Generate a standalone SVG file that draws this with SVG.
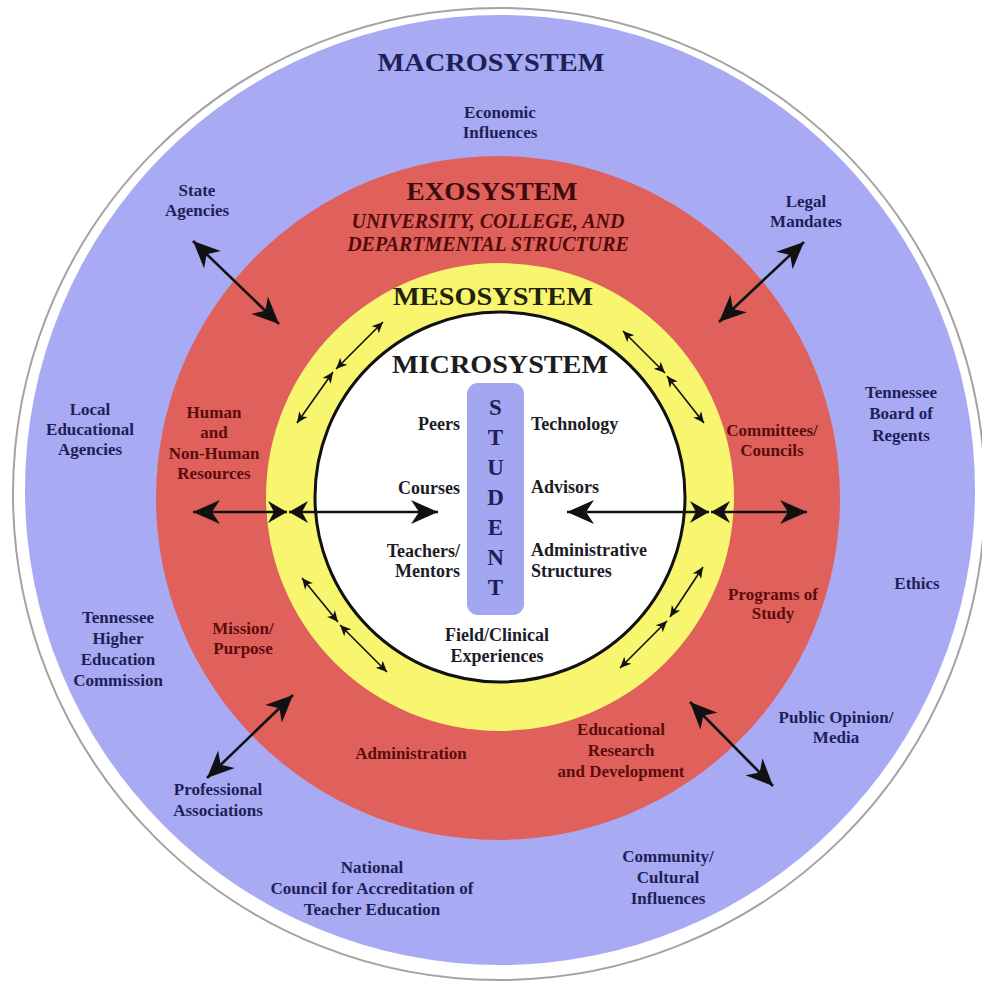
<svg xmlns="http://www.w3.org/2000/svg" width="982" height="983" viewBox="0 0 982 983">
<defs>
<style>
.t{font-family:"Liberation Serif","Times New Roman",serif;font-weight:bold;font-size:17px;text-anchor:middle}
.w{font-family:"Liberation Serif","Times New Roman",serif;font-weight:bold;font-size:18px;fill:#1c1c28}
.it{font-family:"Liberation Serif","Times New Roman",serif;font-weight:bold;font-style:italic;font-size:20px;text-anchor:middle;fill:#520a0a}
.ttl{font-family:"Liberation Serif","Times New Roman",serif;font-weight:bold;font-size:26px;text-anchor:middle}
.st{font-family:"Liberation Serif","Times New Roman",serif;font-weight:bold;font-size:23px;text-anchor:middle;fill:#1f1f57}
.nv{fill:#1f1f57}
.mr{fill:#5a0c0c}
.big{stroke:#111;stroke-width:2.6;fill:none}
.thin{stroke:#111;stroke-width:1.6;fill:none}
</style>
<marker id="ah" viewBox="-28 -13 30 26" refX="0" refY="0" markerWidth="30" markerHeight="26" markerUnits="userSpaceOnUse" orient="auto-start-reverse"><path d="M0,0 L-27,-12 L-19,0 L-27,12 Z" fill="#111"/></marker>
<marker id="am" viewBox="-20 -12 22 24" refX="0" refY="0" markerWidth="22" markerHeight="24" markerUnits="userSpaceOnUse" orient="auto-start-reverse"><path d="M0,0 L-19,-11 L-13,0 L-19,11 Z" fill="#111"/></marker>
<marker id="as" viewBox="-12 -6 13 12" refX="0" refY="0" markerWidth="13" markerHeight="12" markerUnits="userSpaceOnUse" orient="auto-start-reverse"><path d="M0,0 L-11,-5 L-8,0 L-11,5 Z" fill="#111"/></marker>
</defs>

<g id="rings">
<circle cx="499" cy="494" r="486" fill="#fff" stroke="#a3a3a3" stroke-width="2"/>
<circle cx="500" cy="490" r="475" fill="#a8aaf4"/>
<circle cx="498" cy="498" r="342" fill="#e0615b"/>
<circle cx="500" cy="497" r="234" fill="#f8f66e"/>
<circle cx="500" cy="497" r="185" fill="#fff" stroke="#111" stroke-width="3"/>
</g>

<g id="titles">
<text id="macrosystem" class="ttl nv" x="491" y="71" font-size="27" textLength="227" lengthAdjust="spacingAndGlyphs">MACROSYSTEM</text>
<text id="exosystem" class="ttl" x="492" y="200" fill="#3d0b0b" textLength="171" lengthAdjust="spacingAndGlyphs">EXOSYSTEM</text>
<text class="it" x="488" y="228">UNIVERSITY, COLLEGE, AND</text>
<text class="it" x="488" y="251">DEPARTMENTAL STRUCTURE</text>
<text id="mesosystem" class="ttl" x="493" y="305" fill="#23220f" textLength="200" lengthAdjust="spacingAndGlyphs">MESOSYSTEM</text>
<text id="microsystem" class="ttl" x="500" y="373" fill="#1c1c1c" textLength="216" lengthAdjust="spacingAndGlyphs">MICROSYSTEM</text>
</g>

<g id="connectors">
<line class="big" x1="193" y1="241" x2="279" y2="324" marker-start="url(#ah)" marker-end="url(#ah)"/>
<line class="big" x1="804" y1="242" x2="719" y2="322" marker-start="url(#ah)" marker-end="url(#ah)"/>
<line class="big" x1="207" y1="778" x2="293" y2="695" marker-start="url(#ah)" marker-end="url(#ah)"/>
<line class="big" x1="690" y1="702" x2="773" y2="786" marker-start="url(#ah)" marker-end="url(#ah)"/>
<line class="big" x1="193" y1="512" x2="287" y2="512" marker-start="url(#ah)" marker-end="url(#am)"/>
<line class="big" x1="289" y1="512" x2="438" y2="512" marker-start="url(#am)" marker-end="url(#ah)"/>
<line class="big" x1="567" y1="512" x2="709" y2="512" marker-start="url(#ah)" marker-end="url(#am)"/>
<line class="big" x1="711" y1="512" x2="807" y2="512" marker-start="url(#am)" marker-end="url(#ah)"/>
<line class="thin" x1="383" y1="322" x2="336" y2="369" marker-start="url(#as)" marker-end="url(#as)"/>
<line class="thin" x1="333" y1="372" x2="297" y2="423" marker-start="url(#as)" marker-end="url(#as)"/>
<line class="thin" x1="623" y1="331" x2="665" y2="373" marker-start="url(#as)" marker-end="url(#as)"/>
<line class="thin" x1="667" y1="376" x2="704" y2="423" marker-start="url(#as)" marker-end="url(#as)"/>
<line class="thin" x1="302" y1="578" x2="338" y2="622" marker-start="url(#as)" marker-end="url(#as)"/>
<line class="thin" x1="340" y1="625" x2="387" y2="672" marker-start="url(#as)" marker-end="url(#as)"/>
<line class="thin" x1="703" y1="567" x2="670" y2="617" marker-start="url(#as)" marker-end="url(#as)"/>
<line class="thin" x1="667" y1="621" x2="620" y2="668" marker-start="url(#as)" marker-end="url(#as)"/>
</g>

<g id="student">
<rect x="467" y="383" width="57" height="232" rx="11" fill="#a3a6f0"/>
<text class="st" x="495.5" y="415">S</text>
<text class="st" x="495.5" y="445">T</text>
<text class="st" x="495.5" y="475">U</text>
<text class="st" x="495.5" y="505">D</text>
<text class="st" x="495.5" y="535">E</text>
<text class="st" x="495.5" y="565">N</text>
<text class="st" x="495.5" y="595">T</text>
</g>

<g id="economic" class="t nv"><text x="500" y="118">Economic</text><text x="500" y="138">Influences</text></g>
<g id="state-agencies" class="t nv"><text x="197" y="196">State</text><text x="197" y="216">Agencies</text></g>
<g id="legal-mandates" class="t nv"><text x="806" y="207">Legal</text><text x="806" y="227">Mandates</text></g>
<g id="local-agencies" class="t nv"><text x="90" y="415">Local</text><text x="90" y="435">Educational</text><text x="90" y="455">Agencies</text></g>
<g id="tbr" class="t nv"><text x="901" y="398">Tennessee</text><text x="901" y="419">Board of</text><text x="901" y="441">Regents</text></g>
<g id="ethics" class="t nv"><text x="917" y="589">Ethics</text></g>
<g id="thec" class="t nv"><text x="118" y="623">Tennessee</text><text x="118" y="644">Higher</text><text x="118" y="665">Education</text><text x="118" y="686">Commission</text></g>
<g id="public-opinion" class="t nv"><text x="836" y="723">Public Opinion/</text><text x="836" y="743">Media</text></g>
<g id="professional" class="t nv"><text x="218" y="795">Professional</text><text x="218" y="816">Associations</text></g>
<g id="ncate" class="t nv"><text x="372" y="873">National</text><text x="372" y="894">Council for Accreditation of</text><text x="372" y="915">Teacher Education</text></g>
<g id="community" class="t nv"><text x="668" y="862">Community/</text><text x="668" y="883">Cultural</text><text x="668" y="904">Influences</text></g>

<g id="resources" class="t mr"><text x="214" y="418">Human</text><text x="214" y="438">and</text><text x="214" y="459">Non-Human</text><text x="214" y="479">Resources</text></g>
<g id="committees" class="t mr"><text x="772" y="436">Committees/</text><text x="772" y="456">Councils</text></g>
<g id="programs" class="t mr"><text x="773" y="600">Programs of</text><text x="773" y="619">Study</text></g>
<g id="mission" class="t mr"><text x="243" y="634">Mission/</text><text x="243" y="654">Purpose</text></g>
<g id="administration" class="t mr"><text x="411" y="759">Administration</text></g>
<g id="ed-research" class="t mr"><text x="621" y="735">Educational</text><text x="621" y="756">Research</text><text x="621" y="777">and Development</text></g>

<g id="peers" class="w" text-anchor="end"><text x="460" y="430">Peers</text></g>
<g id="courses" class="w" text-anchor="end"><text x="460" y="494">Courses</text></g>
<g id="teachers" class="w" text-anchor="end"><text x="460" y="557">Teachers/</text><text x="460" y="577">Mentors</text></g>
<g id="technology" class="w"><text x="531" y="430">Technology</text></g>
<g id="advisors" class="w"><text x="531" y="493">Advisors</text></g>
<g id="admin-structures" class="w"><text x="531" y="556">Administrative</text><text x="531" y="577">Structures</text></g>
<g id="field" class="w" text-anchor="middle"><text x="497" y="641">Field/Clinical</text><text x="497" y="662">Experiences</text></g>
</svg>
